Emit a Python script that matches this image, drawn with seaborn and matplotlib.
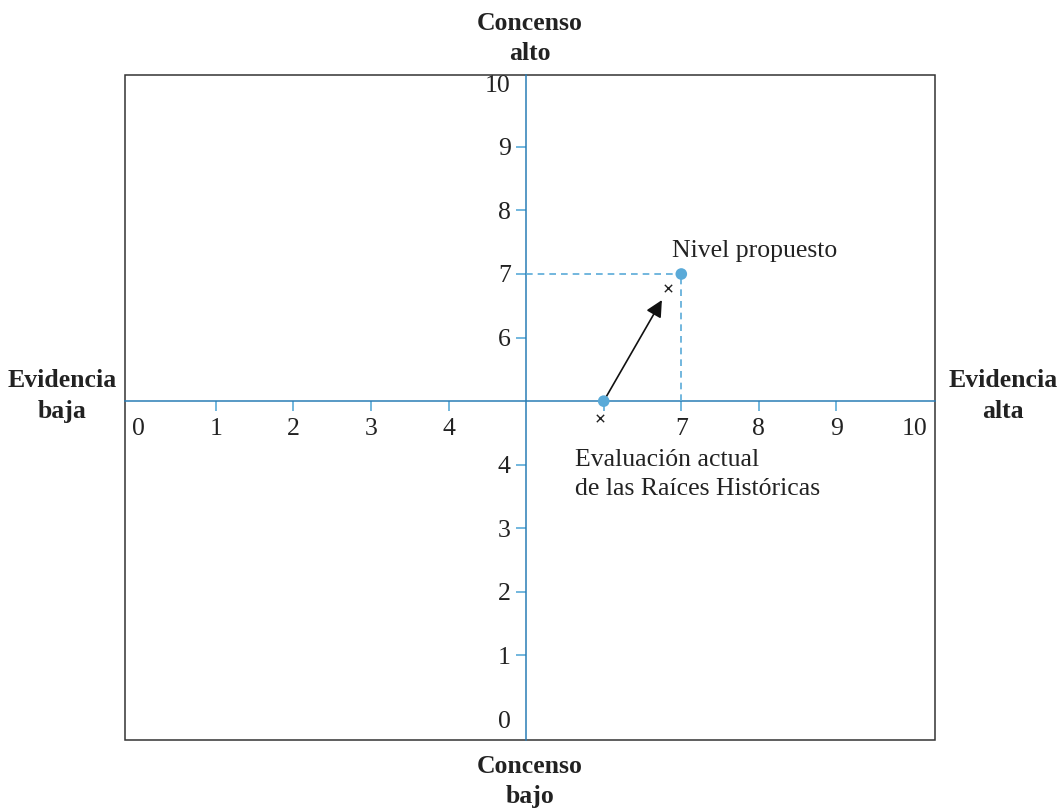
import pandas as pd
import matplotlib.pyplot as plt
import seaborn as sns

sns.set_theme(style='white')
plt.rcParams['font.family'] = ['Liberation Serif', 'DejaVu Serif']

# data
x_ticks = [0, 1, 2, 3, 4, 6, 7, 8, 9, 10]
x_labels = ['0', '1', '2', '3', '4', '', '7', '8', '9', '10']
y_ticks = [0, 1, 2, 3, 4, 6, 7, 8, 9, 10]
y_labels = ['0', '1', '2', '3', '4', '6', '7', '8', '9', '10']
point_names = ['Evaluación actual', 'Nivel propuesto']
point_x = [6, 7]
point_y = [5, 7]
cross_x = [5.95, 6.83]      # small x marks next to the points
cross_y = [4.73, 6.78]
arrow_end = (6.75, 6.59)

blue = '#2a7db5'
light = '#5aaad8'
fs = 18.5

df = pd.DataFrame({'name': point_names, 'x': point_x, 'y': point_y})
crosses = pd.DataFrame({'x': cross_x, 'y': cross_y})

fig = plt.figure(figsize=(10.6, 8.09), dpi=100)
ax = fig.add_axes([125/1060, 1 - 740/809, 810/1060, 665/809])
ax.set_xlim(-0.17, 10.27)
ax.set_ylim(-0.33, 10.13)

# centre axes on (5, 5), outer frame drawn as a rectangle
ax.spines['bottom'].set_position(('data', 5))
ax.spines['left'].set_position(('data', 5))
ax.spines['top'].set_visible(False)
ax.spines['right'].set_visible(False)
for s in ['bottom', 'left']:
    ax.spines[s].set_color(blue)
    ax.spines[s].set_linewidth(1.1)
    ax.spines[s].set_zorder(1)
ax.add_patch(plt.Rectangle((0, 0), 1, 1, transform=ax.transAxes, fill=False,
                           edgecolor='#333333', lw=1.1, clip_on=False))

ax.set_xticks(x_ticks)
ax.set_yticks(y_ticks)
ax.set_xticklabels(x_labels)
ax.set_yticklabels(y_labels)
ax.tick_params(axis='both', direction='out', length=7, width=1.2, color=light,
               labelsize=fs, labelcolor='#222222', pad=4,
               bottom=True, left=True)
ax.tick_params(axis='x', pad=5)
for t in ax.xaxis.get_major_ticks()[::len(x_ticks) - 1]:
    t.tick1line.set_visible(False)
for t in ax.yaxis.get_major_ticks()[::len(y_ticks) - 1]:
    t.tick1line.set_visible(False)

# guide lines to proposed level
ax.plot([5, point_x[1]], [point_y[1], point_y[1]], ls=(0, (4, 3)), color=light, lw=1.2, zorder=2)
ax.plot([point_x[1], point_x[1]], [5, point_y[1]], ls=(0, (4, 3)), color=light, lw=1.2, zorder=2)

ax.annotate('', xy=arrow_end, xytext=(point_x[0], point_y[0]),
            arrowprops=dict(arrowstyle='-|>', color='#111111', lw=1.2, mutation_scale=25,
                            shrinkA=0, shrinkB=0), zorder=3)

sns.scatterplot(data=df, x='x', y='y', ax=ax, color=light, s=70, edgecolor='none', zorder=4, legend=False)
sns.scatterplot(data=crosses, x='x', y='y', ax=ax, color='#222222', marker='x', s=28, linewidth=1.0,
                zorder=4, legend=False)
ax.set_xlabel('')
ax.set_ylabel('')

ax.text(6.88, 7.36, 'Nivel propuesto', fontsize=fs, color='#222222', va='center', ha='left')
ax.text(5.63, 4.25, 'Evaluación actual\nde las Raíces Históricas', fontsize=fs, color='#222222',
        va='top', ha='left', linespacing=1.45)

# outer corner labels
kw = dict(fontsize=fs, fontweight='bold', color='#222222', ha='center', va='center', linespacing=1.4)
fig.text(0.5, 0.952, 'Concenso\nalto', **kw)
fig.text(0.5, 0.034, 'Concenso\nbajo', **kw)
fig.text(0.0585, 0.5105, 'Evidencia\nbaja', **kw)
fig.text(0.946, 0.5105, 'Evidencia\nalta', **kw)

fig.savefig('out.png', dpi=100)
